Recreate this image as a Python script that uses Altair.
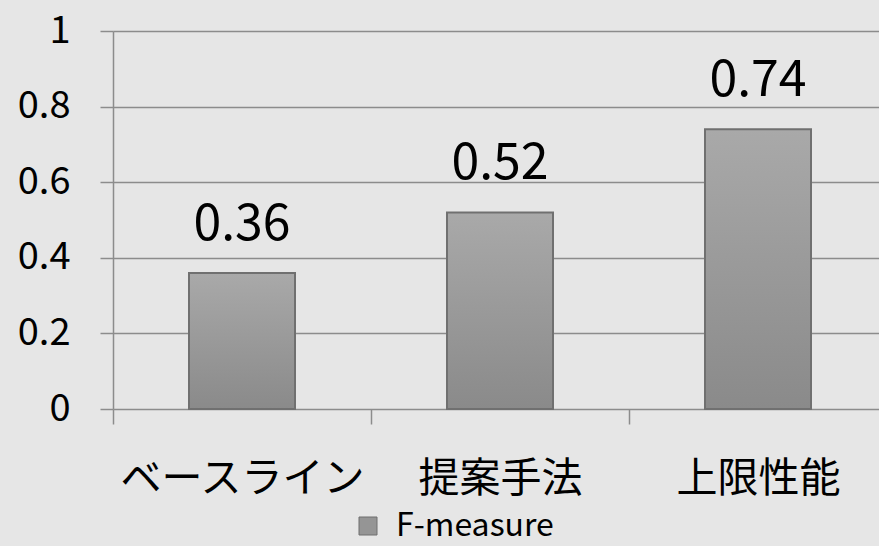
import altair as alt
import pandas as pd

categories = ["ベースライン", "提案手法", "上限性能"]
values = [0.36, 0.52, 0.74]
series_name = "F-measure"
y_ticks = [0, 0.2, 0.4, 0.6, 0.8, 1]

df = pd.DataFrame({"cat": categories, "val": values, "series": [series_name] * len(categories)})

FONT = "Noto Sans CJK JP"
GRID = "#8c8c8c"

x_scale = alt.Scale(paddingInner=0, paddingOuter=0, range=[0, 774])

x_enc = alt.X("cat:N", sort=categories, scale=x_scale,
              axis=alt.Axis(title=None, labelAngle=0, labelFontSize=41, labelFont=FONT,
                            labelFontWeight="normal", labelLimit=0,
                            labelColor="black", labelPadding=35, domain=False,
                            ticks=True, tickBand="extent", tickSize=15, tickColor=GRID,
                            tickWidth=1.5, grid=False))
y_enc = alt.Y("val:Q", scale=alt.Scale(domain=[0, 1], nice=False),
              axis=alt.Axis(title=None, values=y_ticks, format=".1~f", labelFontSize=38,
                            labelFont=FONT, labelColor="black", labelPadding=30,
                            domain=True, domainColor=GRID, domainWidth=1.5,
                            tickSize=13, tickColor=GRID, tickWidth=1.5,
                            grid=True, gridColor=GRID, gridWidth=1.5))

base = alt.Chart(df)

bars = base.mark_bar(
    size=106,
    color=alt.Gradient(gradient="linear",
                       stops=[alt.GradientStop(color="#a9a9a9", offset=0),
                              alt.GradientStop(color="#8a8a8a", offset=1)],
                       x1=0, x2=0, y1=0, y2=1),
    stroke="#707070", strokeWidth=2,
).encode(x=x_enc, y=y_enc)

labels = base.mark_text(fontSize=50, font=FONT, color="black", baseline="alphabetic", dy=-33).encode(
    x=alt.X("cat:N", sort=categories), y="val:Q", text=alt.Text("val:Q", format=".2f"))

legend_layer = base.mark_square(opacity=0).encode(
    x=alt.X("cat:N", sort=categories), y="val:Q",
    color=alt.Color("series:N", scale=alt.Scale(range=["#959595"]),
                    legend=alt.Legend(title=None, orient="none", legendX=239, legendY=479,
                                      symbolType="square", symbolSize=324, symbolOpacity=1,
                                      symbolStrokeColor="#6e6e6e", symbolStrokeWidth=1,
                                      labelFontSize=32, labelFont=FONT, labelColor="black",
                                      labelOffset=12, labelLimit=0, padding=0)))

chart = alt.layer(bars, labels, legend_layer).properties(
    width=766, height=378,
    background="#e6e6e6",
    autosize=alt.AutoSizeParams(type="none"),
    padding={"left": 113, "top": 31, "right": 0, "bottom": 137},
).configure_view(stroke=None)

chart.save("out.html", embed_options={"renderer": "svg", "actions": False})
